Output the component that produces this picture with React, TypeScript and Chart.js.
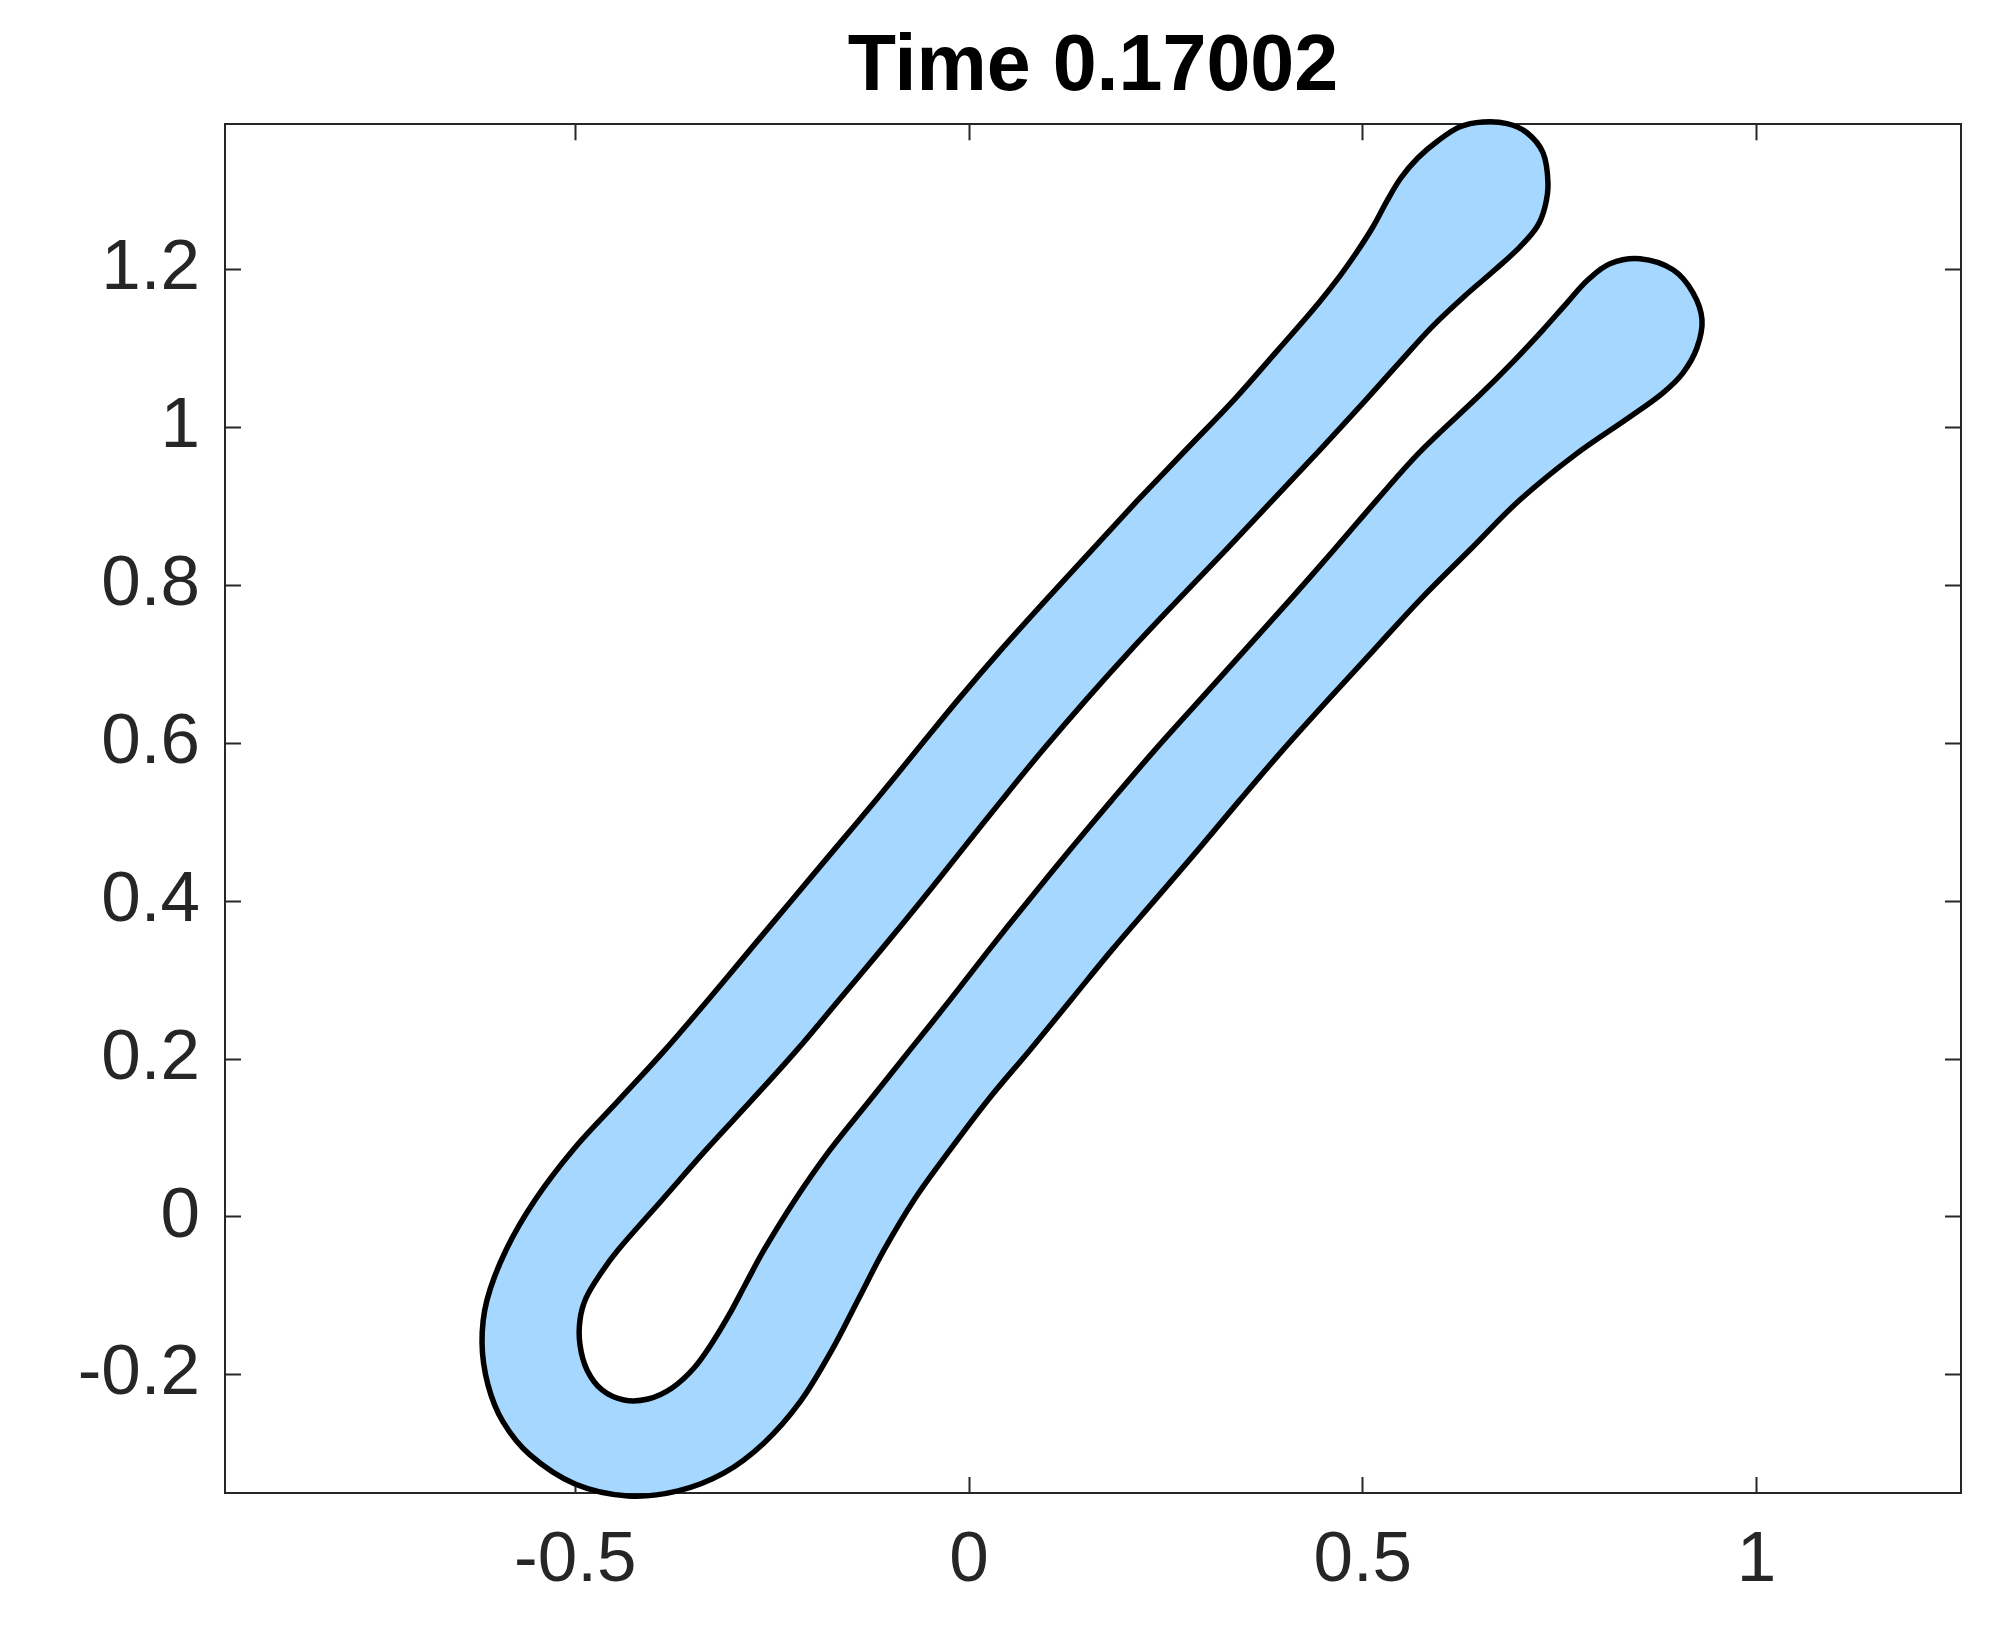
import { useEffect, useRef } from "react";
import { Chart, registerables } from "chart.js";

Chart.register(...registerables);

const titleText = "Time 0.17002";
const xTicks = [-0.5, 0, 0.5, 1];
const yTicks = [-0.2, 0, 0.2, 0.4, 0.6, 0.8, 1, 1.2];
const xLimits = [-0.9448, 1.2597];
const yLimits = [-0.3497, 1.3841];

// Closed boundary of the fluid region, traced counter-clockwise
const boundaryX = [
  0.2146, 0.1562, 0.0978, 0.0406, -0.014, -0.066, -0.1181, -0.1714, -0.2248, -0.2781,
  -0.3314, -0.386, -0.4444, -0.5029, -0.5511, -0.5879, -0.6121, -0.6184, -0.6108, -0.5917,
  -0.5575, -0.5003, -0.433, -0.3695, -0.3111, -0.2603, -0.2146, -0.174, -0.141, -0.1079,
  -0.0698, -0.0241, 0.0241, 0.0775, 0.1295, 0.1816, 0.2362, 0.2908, 0.3441, 0.3987,
  0.4559, 0.5143, 0.5727, 0.6362, 0.6997, 0.7695, 0.8394, 0.8813, 0.9067, 0.9244,
  0.9308, 0.9194, 0.894, 0.8521, 0.814, 0.786, 0.7594, 0.7289, 0.6908, 0.6489,
  0.5727, 0.5181, 0.4635, 0.4076, 0.3505, 0.2933, 0.2362, 0.1816, 0.1283, 0.0762,
  0.0254, -0.0241, -0.0749, -0.1257, -0.1765, -0.221, -0.2603, -0.2844, -0.3048, -0.3263,
  -0.3492, -0.3771, -0.4076, -0.4381, -0.466, -0.4851, -0.494, -0.494, -0.4863, -0.4673, -0.4457,
  -0.3898, -0.334, -0.2756, -0.2184, -0.1651, -0.1117, -0.0597, -0.0089, 0.0419, 0.094,
  0.1486, 0.2057, 0.2654, 0.3263, 0.386, 0.4457, 0.5029, 0.5473, 0.5892, 0.6298,
  0.6679, 0.6997, 0.7213, 0.7314, 0.7352, 0.7289, 0.7086, 0.6832, 0.6527, 0.6235,
  0.5956, 0.5702, 0.5486, 0.5308, 0.513, 0.4927, 0.4711, 0.4368, 0.3924, 0.3365, 0.2756,
];
const boundaryY = [
  0.9084, 0.8451, 0.7817, 0.7184, 0.655, 0.5917, 0.5283, 0.465, 0.4016, 0.3383,
  0.2749, 0.2116, 0.1482, 0.0849, 0.0215, -0.0418, -0.1052, -0.1596, -0.2128, -0.2597,
  -0.3015, -0.3383, -0.3535, -0.3471, -0.3243, -0.2863, -0.2344, -0.1685, -0.1052, -0.0418,
  0.0215, 0.0849, 0.1482, 0.2116, 0.2749, 0.3383, 0.4016, 0.465, 0.5283, 0.5917,
  0.655, 0.7184, 0.7817, 0.8451, 0.9084, 0.9654, 1.0136, 1.044, 1.0693, 1.101,
  1.1365, 1.1707, 1.1998, 1.2137, 1.2074, 1.1871, 1.158, 1.1238, 1.0832, 1.0414,
  0.9692, 0.9084, 0.8451, 0.7817, 0.7184, 0.655, 0.5917, 0.5283, 0.465, 0.4016,
  0.3383, 0.2749, 0.2116, 0.1482, 0.0849, 0.0215, -0.0418, -0.0862, -0.1242, -0.1596,
  -0.1913, -0.2166, -0.2306, -0.2319, -0.2192, -0.1938, -0.1622, -0.1305, -0.1026, -0.0709, -0.0418,
  0.0215, 0.0849, 0.1482, 0.2116, 0.2749, 0.3383, 0.4016, 0.465, 0.5283, 0.5917,
  0.655, 0.7184, 0.7817, 0.8451, 0.9084, 0.9718, 1.0338, 1.0832, 1.1288, 1.1669,
  1.1998, 1.2289, 1.2543, 1.2796, 1.31, 1.348, 1.3734, 1.385, 1.387, 1.381,
  1.3632, 1.3417, 1.3164, 1.2872, 1.2543, 1.2226, 1.1922, 1.1491, 1.0984, 1.0351, 0.9718,
];

const FAMILY = "'Liberation Sans', Arial, Helvetica, sans-serif";
const AXIS_COLOR = "#262626";

export default function App() {
  const ref = useRef<HTMLCanvasElement>(null);

  useEffect(() => {
    document.body.style.margin = "0";
    const canvas = ref.current;
    if (!canvas) return;

    const points = boundaryX.map((x, i) => ({ x, y: boundaryY[i] }));
    points.push({ x: boundaryX[0], y: boundaryY[0] });

    const tickFont = { family: FAMILY, size: 71 };
    const grid = {
      drawOnChartArea: false,
      drawTicks: true,
      tickLength: -16,
      tickWidth: 2,
      tickColor: AXIS_COLOR,
    };
    const border = { display: true, color: AXIS_COLOR, width: 2 };
    const setTicks = (vals: number[]) => (scale: any) => {
      scale.ticks = vals.map((v) => ({ value: v }));
    };
    const fmt = (v: any) => String(v);

    const chart = new Chart(canvas, {
      type: "scatter",
      data: {
        datasets: [
          {
            data: points,
            showLine: true,
            fill: "shape",
            backgroundColor: "#a6d8ff",
            borderColor: "#000000",
            borderWidth: 5.5,
            borderJoinStyle: "round",
            pointRadius: 0,
            pointHoverRadius: 0,
            tension: 0.35,
            clip: false,
          } as any,
        ],
      },
      options: {
        responsive: false,
        animation: false,
        events: [],
        layout: { padding: { left: 0, right: 33, top: 0, bottom: 0 } },
        plugins: {
          legend: { display: false },
          tooltip: { enabled: false },
          title: {
            display: true,
            text: titleText,
            fullSize: false,
            color: "#000000",
            font: { family: FAMILY, size: 79, weight: "bold", lineHeight: 1.2 },
            padding: { top: 21, bottom: 8.5 },
          },
        },
        scales: {
          x: {
            type: "linear",
            position: "bottom",
            min: xLimits[0],
            max: xLimits[1],
            afterBuildTicks: setTicks(xTicks),
            afterFit: (s: any) => {
              s.height = 147;
            },
            ticks: {
              autoSkip: false,
              maxRotation: 0,
              minRotation: 0,
              padding: 42,
              color: AXIS_COLOR,
              font: tickFont,
              callback: fmt,
            },
            grid,
            border,
          },
          x2: {
            type: "linear",
            position: "top",
            min: xLimits[0],
            max: xLimits[1],
            afterBuildTicks: setTicks(xTicks),
            afterFit: (s: any) => {
              s.height = 0;
            },
            ticks: { display: false },
            grid,
            border,
          },
          y: {
            type: "linear",
            position: "left",
            min: yLimits[0],
            max: yLimits[1],
            afterBuildTicks: setTicks(yTicks),
            afterFit: (s: any) => {
              s.width = 225;
            },
            ticks: {
              autoSkip: false,
              padding: 41,
              color: AXIS_COLOR,
              font: tickFont,
              callback: fmt,
            },
            grid,
            border,
          },
          y2: {
            type: "linear",
            position: "right",
            min: yLimits[0],
            max: yLimits[1],
            afterBuildTicks: setTicks(yTicks),
            afterFit: (s: any) => {
              s.width = 0;
            },
            ticks: { display: false },
            grid,
            border,
          },
        } as any,
      },
    });

    return () => chart.destroy();
  }, []);

  return (
    <canvas
      ref={ref}
      width={1994}
      height={1640}
      style={{ display: "block", width: "1994px", height: "1640px" }}
    />
  );
}
